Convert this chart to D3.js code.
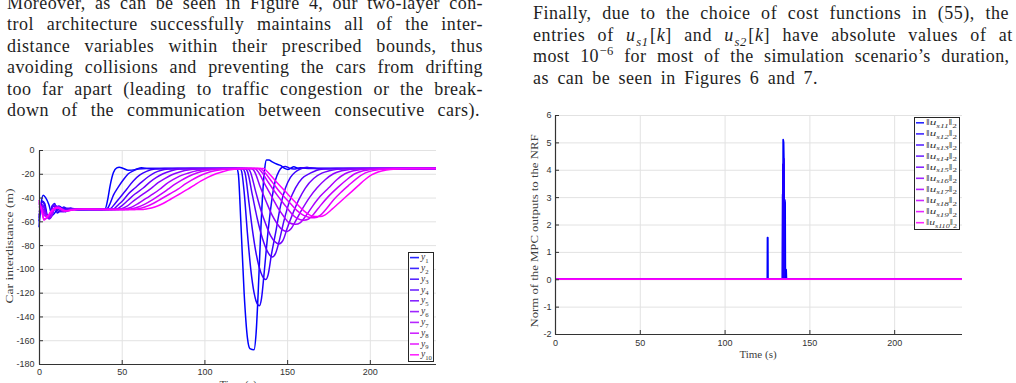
<!DOCTYPE html>
<html>
<head>
<meta charset="utf-8">
<script src="https://cdn.jsdelivr.net/npm/d3@7"></script>
<style>
  body { margin: 0; background: #fff; }
  svg { display: block; }
  .tick text { font-family: "Liberation Sans", Arial, sans-serif; font-size: 9px; fill: #333; }
  .serif { font-family: "Liberation Serif", "Times New Roman", serif; }
</style>
</head>
<body>
<svg id="page" width="1016" height="383"></svg>
<script>
// ---- data ----
var xTicks = [0, 50, 100, 150, 200];
var yTicksLeft = [-180, -160, -140, -120, -100, -80, -60, -40, -20, 0];
var yTicksRight = [-2, -1, 0, 1, 2, 3, 4, 5, 6];

// car interdistances y1..y10, [time (s), distance (m)]
var y1 = [[0,-65],[1.2,-46],[2.5,-38],[4,-40],[6,-46],[8,-55],[10,-52],[12,-47],[14,-49],[16,-52],[19,-49],[23,-50.5],[30,-50],[38,-50],[40,-49.5],[41.5,-42],[43,-30],[45,-19],[47,-15],[48.5,-14.5],[51,-15.5],[54,-17],[58,-16.5],[62,-15],[66,-15.5],[80,-15.5],[100,-15.5],[119.5,-15.5],[120.5,-20],[122,-60],[124,-120],[126,-158],[127.5,-167],[130,-168],[131.2,-155],[132.5,-120],[134,-70],[135.3,-35],[136.5,-15],[137.5,-8.5],[139,-8.5],[141,-10],[144,-12],[146,-13],[148.5,-15.5],[150.5,-16.3],[152,-15.5],[154,-14],[157,-15.5],[162,-14.8],[168,-15.5],[240,-15.5]];
var y2 = [[0,-60],[2,-43],[3.5,-45],[5,-55],[6.5,-57],[8,-47],[9.5,-45],[11,-53],[13,-51],[15,-48],[18,-50.5],[22,-49.5],[28,-50],[40,-50],[41.5,-49],[43,-45],[45,-38],[48,-31],[51,-25],[54,-20],[57,-17.5],[60,-16],[65,-15.5],[121.5,-15.5],[122.5,-18],[124,-35],[126,-70],[128,-100],[130,-120],[131.8,-129],[133.2,-131],[134.5,-125],[136,-105],[138,-75],[140,-50],[141.5,-35],[143,-25],[145,-18],[147,-14.5],[149,-13.8],[151,-15],[154,-16],[158,-15],[164,-15.5],[240,-15.5]];
var y3 = [[0,-57],[2,-44],[3.5,-47],[5,-56],[6.5,-55],[8,-47],[10,-48],[12,-52],[14,-50],[17,-49],[22,-50],[42,-50],[43.5,-49],[46,-45],[49,-40],[53,-33],[57,-26],[61,-21],[65,-18],[70,-16],[76,-15.5],[123,-15.5],[124.5,-19],[127,-45],[129,-67],[131,-85],[133,-98],[135,-106],[137,-109],[138.5,-105],[140.5,-88],[143,-70],[146,-47],[149,-32],[152,-23],[155,-18.5],[158,-16],[162,-14.8],[166,-15.3],[172,-15.5],[240,-15.5]];
var y4 = [[0,-55],[2,-46],[3.5,-50],[5,-57],[7,-54],[9,-46],[11,-48],[13,-52],[16,-50],[19,-49],[24,-50],[44,-50],[45.5,-49.3],[48,-46],[51,-42],[54,-37],[58,-32],[62,-27],[66,-22.5],[70,-19],[74,-17],[78,-16],[84,-15.5],[124.5,-15.5],[126,-18],[129,-38],[132,-58],[135,-74],[138,-85],[141,-90],[143,-87],[145.5,-75],[148,-60],[151.5,-43],[155,-32],[159,-24],[164,-19.5],[168,-17],[172,-16],[180,-15.5],[240,-15.5]];
var y5 = [[0,-52],[2.5,-47],[4,-52],[6,-58],[8,-55],[10,-47],[12,-48],[14,-52],[17,-50.5],[20,-49.5],[25,-50],[46,-50],[47.5,-49.4],[50,-47],[54,-42],[58,-37],[63,-32],[67,-27],[71,-23],[75,-20],[80,-17.5],[85,-16],[92,-15.5],[126,-15.5],[127.5,-17.5],[131,-35],[134,-50],[137,-62],[140,-72],[142.5,-77],[145,-79],[147.5,-76],[150,-66],[153,-55],[157,-42],[161,-32],[166,-24],[171,-19.5],[175.5,-17.5],[180,-16.3],[188,-15.5],[240,-15.5]];
var y6 = [[0,-49],[1.5,-48],[3,-51],[5,-56],[6.5,-57],[8.5,-52],[10,-48],[12.5,-49],[15,-52],[18,-50.5],[22,-49.7],[28,-50],[48,-50],[50,-49.4],[53,-47.5],[57,-43],[62,-38],[68,-32],[72,-27.5],[76,-24],[80,-21],[85,-18.5],[92,-16.5],[98,-15.7],[128.5,-15.5],[130,-17.5],[134,-32],[137.5,-44],[141,-55],[144,-62],[147,-67],[150,-68.5],[152.5,-66],[155,-60],[159,-50],[163.5,-40],[168,-32],[173,-25],[178,-20],[183,-17.5],[188,-16.3],[196,-15.5],[240,-15.5]];
var y7 = [[0,-47],[1.5,-49],[3,-53],[5,-56],[7,-56],[9,-50],[11,-48],[13.5,-50],[16,-51.5],[19,-50.5],[24,-49.8],[30,-50],[51,-50],[53,-49.4],[56,-48],[60,-45],[65,-40.5],[69,-37],[73,-33],[77,-28.5],[81,-25],[85,-22],[90,-19.5],[96,-17.3],[103,-16],[110,-15.5],[130.5,-15.5],[132,-17.5],[137,-30],[141,-40],[145,-50],[148,-56],[151,-61],[155,-62.5],[158,-61],[161,-56],[165,-48],[170,-39],[175,-32],[180,-25],[185,-20],[190,-17.5],[195,-16.3],[203,-15.5],[240,-15.5]];
var y8 = [[0,-45],[1.5,-49],[3,-55],[5,-56],[7,-54],[9.5,-50],[12,-48],[14.5,-50.5],[17,-51.2],[20,-50.4],[26,-49.8],[32,-50],[54,-50],[56,-49.5],[60,-48],[64,-45.5],[69,-41.5],[74,-37],[78,-33],[82,-29],[86,-25.5],[90,-22.5],[95,-19.5],[101,-17.3],[108,-16],[115,-15.5],[132.5,-15.5],[134,-17.5],[139,-28],[144,-38],[149,-47],[153,-54],[156,-57.5],[160,-59],[163,-58],[166,-54],[170,-47],[175,-39],[181,-31],[186,-25],[191,-20],[196,-17.5],[201,-16.3],[209,-15.5],[240,-15.5]];
var y9 = [[0,-44],[1.5,-50],[3,-58],[5,-57],[7,-52],[9.5,-49],[12,-49],[14.5,-51],[17,-51],[21,-50],[28,-49.9],[58,-50],[60,-49.5],[64,-48],[69,-45],[74,-41],[79,-37],[84,-33],[88,-29],[92,-25.5],[96,-22.5],[101,-19.5],[107,-17.3],[113,-16],[120,-15.5],[134,-15.5],[135.5,-17.5],[141,-27],[146,-36],[152,-45],[156,-51],[160,-55],[163,-56.5],[166.5,-57],[170,-55],[174,-49],[178,-42],[183,-35],[187,-30],[192,-24],[197,-19.5],[202,-17.3],[207,-16.2],[215,-15.5],[240,-15.5]];
var y10 = [[0,-42],[1.5,-50],[3,-59],[5,-56],[8,-51],[10.5,-48.5],[13,-49],[15.5,-51],[18,-51],[22,-50],[30,-49.9],[63,-50],[65.5,-49.5],[70,-48],[75,-45],[80,-41],[85,-37],[90,-33],[94,-29.5],[98,-26],[102,-23],[107,-20],[112,-17.8],[118,-16.3],[125,-15.5],[136,-15.5],[137.5,-17.5],[143,-26],[149,-35],[155,-44],[160,-51],[164,-55],[167,-56],[170,-56],[173,-54.5],[177,-50],[181,-45],[185,-40],[189,-35],[193,-30],[197,-25],[201,-21],[205,-18.5],[210,-16.8],[216,-15.9],[224,-15.5],[240,-15.5]];

// norms of the MPC outputs, [time (s), norm]
var u1 = [[0,0],[125.2,0],[125.3,1.52],[125.5,1.52],[125.6,0],[134.1,0],[134.25,3.1],[134.4,0.3],[134.55,5.1],[134.8,5.0],[135.0,4.3],[135.2,2.2],[135.35,0.2],[135.5,2.9],[135.7,2.8],[135.85,0],[136.3,0.35],[136.5,0],[240,0]];
var u2 = [[0,0],[134.2,0],[134.4,4.2],[134.6,0.5],[135.0,4.4],[135.2,0],[240,0]];
var u3 = [[0,0],[240,0]];
var u4 = [[0,0],[240,0]];
var u5 = [[0,0],[240,0]];
var u6 = [[0,0],[240,0]];
var u7 = [[0,0],[240,0]];
var u8 = [[0,0],[240,0]];
var u9 = [[0,0],[240,0]];
var u10 = [[0,0],[240,0]];

var leftSeries = [y1, y2, y3, y4, y5, y6, y7, y8, y9, y10];
var rightSeries = [u1, u2, u3, u4, u5, u6, u7, u8, u9, u10];
var leftNames = ["1","2","3","4","5","6","7","8","9","10"];
var rightNames = ["s11","s12","s13","s14","s15","s16","s17","s18","s19","s110"];

var colors = d3.range(10).map(function(i) { return d3.interpolateRgb("#0000ff", "#ff00ff")(i / 9); });

var svg = d3.select("#page");

// rich text: segments with italic / subscript / superscript
var addRich = function(sel, segs, size) {
  var shift = 0;
  segs.forEach(function(s) {
    var target = s.sub ? size * 0.28 : (s.sup ? -size * 0.4 : 0);
    var ts = sel.append("tspan").text(s.t).attr("dy", target - shift);
    shift = target;
    if (s.dx) ts.attr("dx", s.dx);
    if (s.it) ts.style("font-style", "italic");
    if (s.sub || s.sup) ts.style("font-size", (size * 0.7) + "px");
  });
};

// spread a line to the column width, part in letters, rest in spaces
var justify = function(node, width) {
  var str = node.textContent;
  var n = (str.match(/ /g) || []).length;
  var w = node.getComputedTextLength();
  var ls = (width - w) * 0.35 / str.length;
  d3.select(node).style("letter-spacing", ls + "px");
  w = node.getComputedTextLength();
  if (n > 0) d3.select(node).style("word-spacing", ((width - w) / n) + "px");
};

// ---- body text ----
var leftLines = [
  [{t: "Moreover, as can be seen in Figure 4, our two-layer con-"}],
  [{t: "trol architecture successfully maintains all of the inter-"}],
  [{t: "distance variables within their prescribed bounds, thus"}],
  [{t: "avoiding collisions and preventing the cars from drifting"}],
  [{t: "too far apart (leading to traffic congestion or the break-"}],
  [{t: "down of the communication between consecutive cars)."}]
];
var rightLines = [
  [{t: "Finally, due to the choice of cost functions in (55), the"}],
  [{t: "entries of "}, {t: "u", it: 1}, {t: "s1", sub: 1, it: 1, dx: 0.5}, {t: "[", dx: 1.5}, {t: "k", it: 1}, {t: "] and "},
   {t: "u", it: 1}, {t: "s2", sub: 1, it: 1, dx: 0.5}, {t: "[", dx: 1.5}, {t: "k", it: 1}, {t: "] have absolute values of at"}],
  [{t: "most 10"}, {t: "\u22126", sup: 1, dx: 0.5}, {t: " for most of the simulation scenario\u2019s duration,"}],
  [{t: "as can be seen in Figures 6 and 7."}]
];

var bodySize = 18;
leftLines.forEach(function(segs, i) {
  var t = svg.append("text").attr("class", "serif")
      .attr("x", 7).attr("y", 8.5 + i * 21.5)
      .style("font-size", bodySize + "px").style("fill", "#1e1e1e");
  addRich(t, segs, bodySize);
  justify(t.node(), i == 5 ? 473 : 476);
});
rightLines.forEach(function(segs, i) {
  var t = svg.append("text").attr("class", "serif")
      .attr("x", 533).attr("y", 19 + i * 21.5)
      .style("font-size", bodySize + "px").style("fill", "#1e1e1e");
  addRich(t, segs, bodySize);
  justify(t.node(), i == 3 ? 285 : 476);
});

// ---- charts ----
var drawChart = function(cfg) {
  var x = d3.scaleLinear().domain([0, 240]).range(cfg.xr);
  var y = d3.scaleLinear().domain(cfg.yd).range(cfg.yr);
  var g = svg.append("g");
  var w = cfg.xr[1] - cfg.xr[0], h = cfg.yr[0] - cfg.yr[1];

  // grid
  g.append("g").attr("transform", "translate(0," + cfg.yr[0] + ")")
    .call(d3.axisBottom(x).tickValues(xTicks).tickSize(-h).tickFormat(""))
    .call(function(s) { s.select(".domain").remove(); s.selectAll("line").attr("stroke", "#e2e2e2"); });
  g.append("g").attr("transform", "translate(" + cfg.xr[0] + ",0)")
    .call(d3.axisLeft(y).tickValues(cfg.yTicks).tickSize(-w).tickFormat(""))
    .call(function(s) { s.select(".domain").remove(); s.selectAll("line").attr("stroke", "#e2e2e2"); });

  // lines
  var line = d3.line().x(function(d) { return x(d[0]); }).y(function(d) { return y(d[1]); }).curve(cfg.curve);
  g.selectAll("path.series").data(cfg.series).enter().append("path")
    .attr("class", "series")
    .attr("d", line)
    .attr("fill", "none")
    .attr("stroke", function(d, i) { return colors[i]; })
    .attr("stroke-width", cfg.lw)
    .attr("stroke-linejoin", "round");

  // axes
  g.append("g").attr("transform", "translate(0," + cfg.yr[0] + ")")
    .call(d3.axisBottom(x).tickValues(xTicks).tickSizeInner(-4).tickSizeOuter(0).tickPadding(cfg.xPad)
      .tickFormat(function(d) { return String(d); }))
    .call(function(s) {
      s.select(".domain").attr("d", "M" + cfg.xr[0] + ",0.5H" + cfg.xr[1]).attr("stroke", "#333").attr("stroke-width", 1.2);
      s.selectAll(".tick line").attr("stroke", "#333");
    });
  g.append("g").attr("transform", "translate(" + cfg.xr[0] + ",0)")
    .call(d3.axisLeft(y).tickValues(cfg.yTicks).tickSizeInner(-4).tickSizeOuter(0).tickPadding(cfg.yPad)
      .tickFormat(function(d) { return String(d); }))
    .call(function(s) {
      s.select(".domain").attr("stroke", "#333").attr("stroke-width", 1.2);
      s.selectAll(".tick line").attr("stroke", "#333");
    });

  // axis labels
  g.append("text").attr("class", "serif")
    .attr("transform", "translate(" + cfg.ylab[0] + "," + cfg.ylab[1] + ") rotate(-90)")
    .attr("text-anchor", "middle").style("font-size", "11px").style("fill", "#404040")
    .attr("textLength", cfg.ylab[2]).attr("lengthAdjust", "spacingAndGlyphs")
    .text(cfg.ylabel);
  g.append("text").attr("class", "serif")
    .attr("x", cfg.xlab[0]).attr("y", cfg.xlab[1])
    .attr("text-anchor", "middle").style("font-size", "11px").style("fill", "#404040")
    .text("Time (s)");

  // legend
  var lg = cfg.legend;
  g.append("rect").attr("x", lg.x + 0.5).attr("y", lg.y + 0.5).attr("width", lg.w).attr("height", lg.h)
    .attr("fill", "#fff").attr("stroke", "#262626").attr("stroke-width", 1);
  cfg.names.forEach(function(nm, i) {
    var yy = lg.y + lg.first + i * lg.step;
    g.append("line").attr("x1", lg.x + 2).attr("x2", lg.x + 2 + lg.len)
      .attr("y1", yy).attr("y2", yy)
      .attr("stroke", colors[i]).attr("stroke-width", 1.6).attr("stroke-opacity", 0.85);
    var t = g.append("text").attr("class", "serif")
      .attr("x", lg.x + 4 + lg.len).attr("y", yy + 2.5)
      .style("font-size", lg.fs + "px").style("fill", "#333");
    addRich(t, lg.segs(nm), lg.fs);
    if (lg.tw) t.attr("textLength", lg.tw).attr("lengthAdjust", "spacingAndGlyphs");
  });
};

drawChart({
  xr: [39, 436], yd: [-180, 0], yr: [364, 150], yTicks: yTicksLeft,
  series: leftSeries, curve: d3.curveMonotoneX, lw: 1.5,
  xPad: 5, yPad: 4.5,
  ylabel: "Car interdistance (m)", ylab: [13, 246, 115], xlab: [238, 388],
  names: leftNames,
  legend: {x: 408, y: 252, w: 25, h: 109, first: 5.6, step: 10.8, len: 9, fs: 9.5, tw: 0,
    segs: function(nm) { return [{t: "y", it: 1}, {t: nm, sub: 1}]; }}
});

drawChart({
  xr: [555, 962], yd: [-2, 6], yr: [334, 115], yTicks: yTicksRight,
  series: rightSeries, curve: d3.curveLinear, lw: 1.7,
  xPad: 5.5, yPad: 3.5,
  ylabel: "Norm of the MPC outputs to the NRF", ylab: [538, 231, 193], xlab: [758, 358],
  names: rightNames,
  legend: {x: 914, y: 117, w: 45, h: 112, first: 5.8, step: 11.1, len: 8, fs: 9, tw: 31,
    segs: function(nm) { return [{t: "\u2016"}, {t: "u", it: 1}, {t: nm, sub: 1, it: 1}, {t: "\u2016"}, {t: "2", sub: 1}]; }}
});
</script>
</body>
</html>
